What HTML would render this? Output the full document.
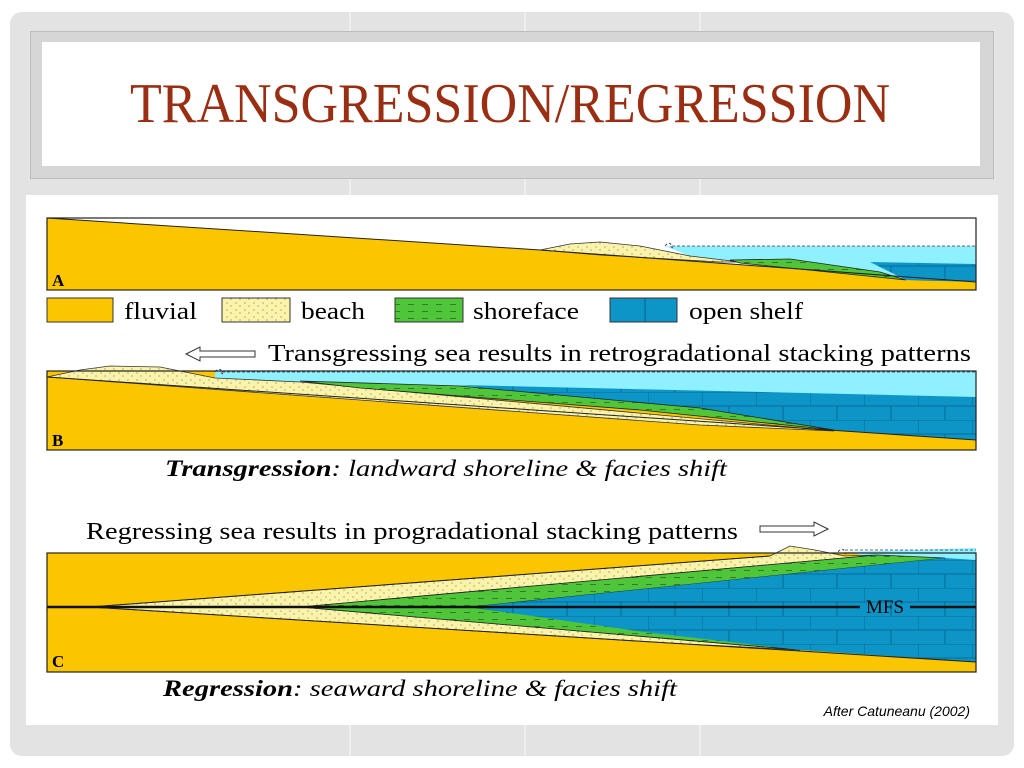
<!DOCTYPE html>
<html><head><meta charset="utf-8"><style>
html,body{margin:0;padding:0;background:#fff;}
svg{display:block;}
</style></head><body>
<svg width="1024" height="768" viewBox="0 0 1024 768" xmlns="http://www.w3.org/2000/svg" font-family="Liberation Serif, serif">
<defs>
<pattern id="grid" width="54" height="28" patternUnits="userSpaceOnUse" x="0" y="0">
<rect width="54" height="28" fill="#0d95c8"/>
<path d="M0 0H54 M0 14H54 M0 0V14 M27 14V28" stroke="#0a5f84" stroke-width="0.8" fill="none"/>
</pattern>
<pattern id="dots" width="9" height="7" patternUnits="userSpaceOnUse">
<rect width="9" height="7" fill="#fbf4a8"/>
<circle cx="2" cy="2" r="0.6" fill="#777"/><circle cx="6" cy="5" r="0.6" fill="#777"/>
</pattern>
<pattern id="dash" width="14" height="7" patternUnits="userSpaceOnUse">
<rect width="14" height="7" fill="#4fc63a"/>
<path d="M2 3.5H8" stroke="#2a6a20" stroke-width="0.8"/>
</pattern>
</defs>
<rect x="10" y="12" width="1004" height="744" rx="12" fill="#e3e3e3"/>
<path d="M350 12V756 M525 12V756 M700 12V756" stroke="#f2f2f2" stroke-width="1.5"/>
<rect x="30.5" y="31.5" width="963" height="147" fill="#d6d6d6" stroke="#bdbdbd"/>
<rect x="42" y="42" width="938" height="124" fill="#fff"/>
<text x="510" y="122" text-anchor="middle" font-size="56" fill="#9a2e12" textLength="760" lengthAdjust="spacingAndGlyphs">TRANSGRESSION/REGRESSION</text>
<rect x="26" y="195" width="972" height="530" fill="#fff"/>

<!-- Panel A -->
<rect x="47" y="218" width="929" height="72" fill="#fbc500"/>
<polygon points="47,200 47,218 540,250 976,282 976,200" fill="#fff"/>
<polygon points="665,246 976,246 976,282 900,278 740,262 690,256" fill="#8ff0ff"/>
<polygon points="540,250 570,244 600,242 640,246 690,256 740,262 720,262 600,255" fill="url(#dots)" stroke="#333" stroke-width="0.8"/>
<polygon points="730,260 790,259 880,272 906,280 740,263" fill="url(#dash)" stroke="#222" stroke-width="0.8"/>
<polygon points="870,262 976,264 976,282 906,280" fill="url(#grid)"/>
<path d="M665,246 q3,-4 6,-2 q-2,2 2,4 M672,246 H976" stroke="#335" stroke-width="0.8" fill="none" stroke-dasharray="3 2"/>
<path d="M47,218 L540,250 L976,282" stroke="#222" fill="none"/>
<rect x="47" y="218" width="929" height="72" fill="none" stroke="#222" stroke-width="1.2"/>
<text x="52" y="286" font-size="17" font-weight="bold">A</text>

<!-- Legend -->
<rect x="47" y="298" width="66" height="24" fill="#fbc500" stroke="#333"/>
<text x="124" y="319" font-size="24" textLength="73" lengthAdjust="spacingAndGlyphs">fluvial</text>
<rect x="222" y="298" width="68" height="24" fill="url(#dots)" stroke="#333"/>
<text x="301" y="319" font-size="24" textLength="64" lengthAdjust="spacingAndGlyphs">beach</text>
<rect x="395" y="298" width="68" height="24" fill="url(#dash)" stroke="#333"/>
<text x="473" y="319" font-size="24" textLength="106" lengthAdjust="spacingAndGlyphs">shoreface</text>
<rect x="610" y="298" width="67" height="24" fill="#0d95c8" stroke="#333"/>
<path d="M645 298V322" stroke="#0a5f84"/>
<text x="689" y="319" font-size="24" textLength="114" lengthAdjust="spacingAndGlyphs">open shelf</text>

<!-- Panel B -->
<path d="M186,354 L200,347 V351 H255 V357 H200 V361 Z" fill="#fff" stroke="#333"/>
<text x="268" y="361" font-size="24" textLength="703" lengthAdjust="spacingAndGlyphs">Transgressing sea results in retrogradational stacking patterns</text>
<rect x="47" y="371" width="929" height="79" fill="#fbc500"/>
<polygon points="215,371 976,371 976,397 460,388 300,382 215,378" fill="#8ff0ff"/>
<polygon points="460,385 976,397 976,440 834,430" fill="url(#grid)"/>
<polygon points="47,377 80,370 110,366 160,367 215,378 300,382 834,431 700,425 47,377" fill="url(#dots)" stroke="#333" stroke-width="0.8"/>
<polygon points="300,381 460,386 700,408 834,430 640,410 460,396 360,388" fill="url(#dash)" stroke="#222" stroke-width="0.8"/>
<path d="M215,372 q3,-4 6,-2 q-2,2 2,4 M222,372 H976" stroke="#335" stroke-width="0.8" fill="none" stroke-dasharray="3 2"/>
<path d="M47,377 L976,440" stroke="#222" fill="none"/>
<rect x="47" y="371" width="929" height="79" fill="none" stroke="#222" stroke-width="1.2"/>
<text x="52" y="446" font-size="17" font-weight="bold">B</text>
<text x="165" y="476" font-size="23" font-style="italic" textLength="562" lengthAdjust="spacingAndGlyphs"><tspan font-weight="bold">Transgression</tspan>: landward shoreline &amp; facies shift</text>

<!-- Panel C -->
<text x="86" y="539" font-size="24" textLength="652" lengthAdjust="spacingAndGlyphs">Regressing sea results in progradational stacking patterns</text>
<path d="M828,529 L814,522 V526 H760 V532 H814 V536 Z" fill="#fff" stroke="#333"/>
<rect x="47" y="553" width="929" height="119" fill="#fbc500"/>
<polygon points="845,552 976,548 976,562 900,562" fill="#8ff0ff"/>
<path d="M838,552 q3,-4 6,-2 q-2,2 2,4 M845,550 H976" stroke="#335" stroke-width="0.8" fill="none" stroke-dasharray="3 2"/>
<polygon points="90,607 770,556 790,546 815,550 845,556 877,555 300,607 800,650 669,643" fill="url(#dots)" stroke="#333" stroke-width="0.8"/>
<polygon points="300,607 877,555 945,558 470,607 800,650" fill="url(#dash)" stroke="#222" stroke-width="0.8"/>
<polygon points="470,607 945,558 976,560 976,662 800,650 644,632" fill="url(#grid)"/>
<path d="M90,607 L669,643 L800,651 L976,662 M90,607 L770,556" stroke="#222" fill="none"/>
<path d="M47,607 H860 M910,607 H976" stroke="#111" stroke-width="2.5"/>
<text x="885" y="613" font-size="19" text-anchor="middle">MFS</text>
<rect x="47" y="553" width="929" height="119" fill="none" stroke="#222" stroke-width="1.2"/>
<text x="52" y="667" font-size="17" font-weight="bold">C</text>
<text x="163" y="696" font-size="23" font-style="italic" textLength="514" lengthAdjust="spacingAndGlyphs"><tspan font-weight="bold">Regression</tspan>: seaward shoreline &amp; facies shift</text>
<text x="970" y="716" font-size="14" font-style="italic" text-anchor="end" font-family="Liberation Sans, sans-serif">After Catuneanu (2002)</text>
</svg>
</body></html>
